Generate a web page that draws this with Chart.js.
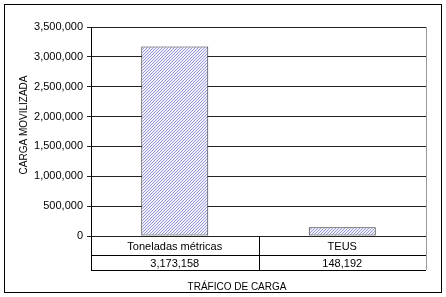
<!DOCTYPE html>
<html>
<head>
<meta charset="utf-8">
<script src="https://cdn.jsdelivr.net/npm/chart.js@4"></script>
<style>
  body { margin: 0; background: #fff; }
  #wrap { width: 446px; height: 297px; position: relative; }
</style>
</head>
<body>
<div id="wrap"><canvas id="cargaChart" width="446" height="297"></canvas></div>
<script>
// Data
const categories = ['Toneladas métricas', 'TEUS'];
const cargaValues = [3173158, 148192];
const yTicks = [0, 500000, 1000000, 1500000, 2000000, 2500000, 3000000, 3500000];
const yTitle = 'CARGA MOVILIZADA';
const xTitle = 'TRÁFICO DE CARGA';

const FONT = '"Liberation Sans", Arial, sans-serif';
const fmt = v => v.toLocaleString('en-US');

// fine diagonal hatch fill like the original
function makeHatch() {
    const c = document.createElement('canvas');
    c.width = 3; c.height = 3;
    const g = c.getContext('2d');
    g.fillStyle = '#f0f0fa';
    g.fillRect(0, 0, 3, 3);
    g.fillStyle = '#9a9ad8';
    for (let i = 0; i < 3; i++) g.fillRect(2 - i, i, 1, 1);
    return g.createPattern(c, 'repeat');
}

// border, right edge, data table and titles
const extras = {
    id: 'extras',
    afterDraw(chart) {
        const ctx = chart.ctx;
        const area = chart.chartArea;
        const x = chart.scales.x;
        const rowH1 = 19, rowH2 = 15;
        const yRow1 = area.bottom, yRow2 = area.bottom + rowH1, yEnd = yRow2 + rowH2;
        ctx.save();
        // outer frame
        ctx.strokeStyle = '#000';
        ctx.lineWidth = 1;
        ctx.strokeRect(4.5, 4.5, 437, 288);
        // right edge of plot + table
        ctx.strokeStyle = '#999';
        ctx.beginPath();
        ctx.moveTo(area.right + 0.5, area.top);
        ctx.lineTo(area.right + 0.5, yEnd);
        ctx.stroke();
        // table lines
        ctx.strokeStyle = '#000';
        ctx.beginPath();
        ctx.moveTo(area.left, yRow2 + 0.5); ctx.lineTo(area.right, yRow2 + 0.5);
        ctx.moveTo(area.left, yEnd + 0.5); ctx.lineTo(area.right, yEnd + 0.5);
        ctx.moveTo(area.left + 0.5, yRow1); ctx.lineTo(area.left + 0.5, yEnd);
        const mid = Math.round((x.getPixelForValue(0) + x.getPixelForValue(1)) / 2) + 0.5;
        ctx.moveTo(mid, yRow1); ctx.lineTo(mid, yEnd);
        ctx.stroke();
        // table text
        ctx.fillStyle = '#000';
        ctx.font = '11px ' + FONT;
        ctx.textAlign = 'center';
        ctx.textBaseline = 'middle';
        categories.forEach((cat, i) => {
            const cx = x.getPixelForValue(i);
            ctx.fillText(cat, cx, yRow1 + rowH1 / 2 + 1);
            ctx.fillText(fmt(cargaValues[i]), cx, yRow2 + rowH2 / 2 + 1);
        });
        // axis titles
        ctx.font = '10px ' + FONT;
        ctx.fillText(xTitle, 237, 287);
        ctx.translate(24, 125);
        ctx.rotate(-Math.PI / 2);
        ctx.fillText(yTitle, 0, 0);
        ctx.restore();
    }
};

new Chart(document.getElementById('cargaChart'), {
    type: 'bar',
    data: {
        labels: categories,
        datasets: [{
            data: cargaValues,
            backgroundColor: makeHatch(),
            borderColor: '#333',
            borderWidth: 1,
            borderSkipped: false,
            barPercentage: 0.4,
            categoryPercentage: 1
        }]
    },
    options: {
        responsive: false,
        animation: false,
        layout: { padding: { left: 4, right: 20, top: 27, bottom: 4 } },
        plugins: { legend: { display: false }, tooltip: { enabled: false } },
        scales: {
            x: {
                ticks: { display: false },
                grid: { display: false },
                border: { display: false },
                afterFit: s => { s.height = 57; }
            },
            y: {
                min: 0,
                max: 3500000,
                afterFit: s => { s.width = 87; },
                afterBuildTicks: s => { s.ticks = yTicks.map(v => ({ value: v })); },
                ticks: {
                    color: '#000',
                    padding: 4,
                    font: { family: FONT, size: 11 },
                    callback: v => fmt(v)
                },
                grid: { color: '#222', tickLength: 4 },
                border: { color: '#000' }
            }
        }
    },
    plugins: [extras]
});
</script>
</body>
</html>
